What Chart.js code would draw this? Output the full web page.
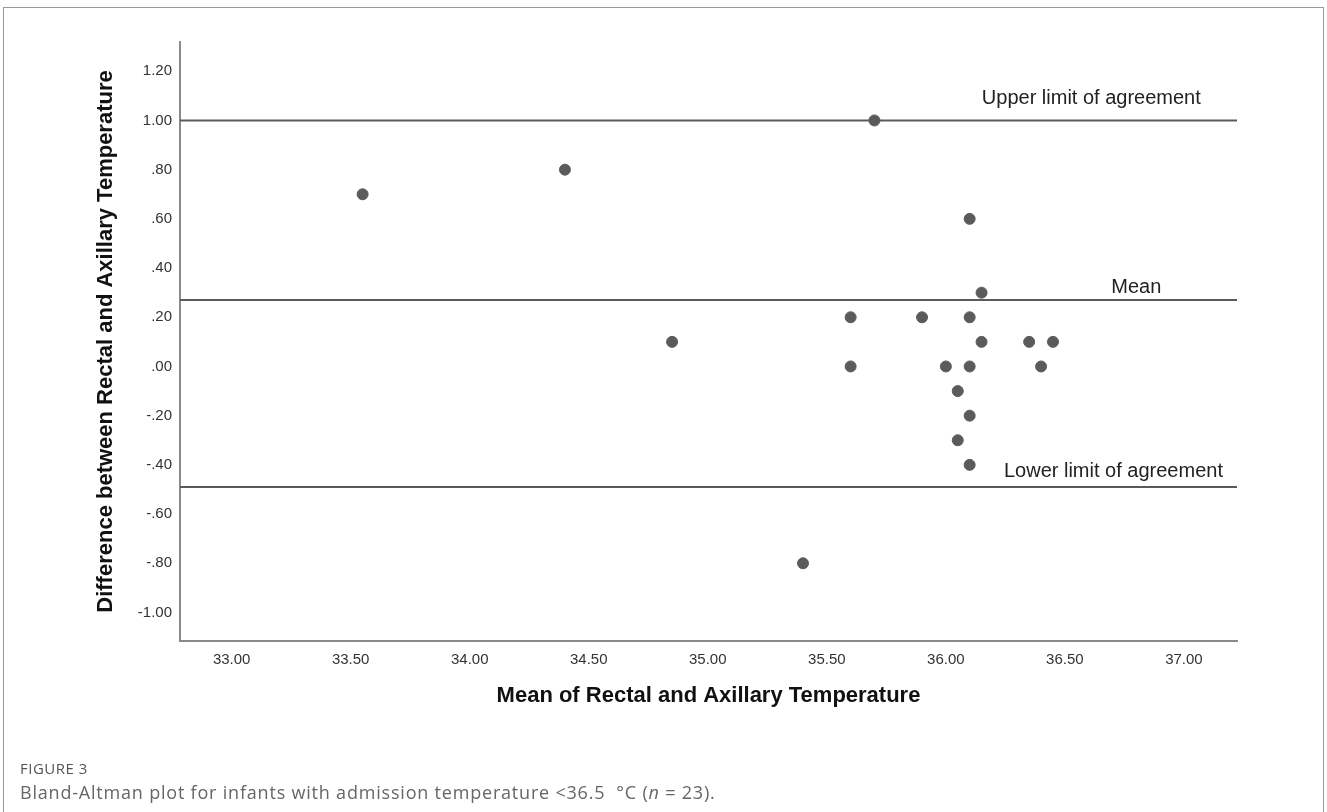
<!DOCTYPE html>
<html>
<head>
<meta charset="utf-8">
<title>Bland-Altman plot</title>
<script src="https://cdn.jsdelivr.net/npm/chart.js@4"></script>
<style>
	html, body { margin: 0; padding: 0; background: #fff; }
	body { width: 1327px; height: 812px; position: relative; overflow: hidden; }
	.frame { position: absolute; left: 3px; top: 7px; width: 1321px; height: 900px; border: 1px solid #9a9a9a; box-sizing: border-box; }
	#baChart { position: absolute; left: 0; top: 0; }
	.fig-label { position: absolute; left: 20px; top: 758px; font: 15px "Open Sans", sans-serif; letter-spacing: 0.5px; color: #555; }
	.fig-caption { position: absolute; left: 20px; top: 780px; font: 18px "Open Sans", sans-serif; letter-spacing: 0.8px; color: #666; }
</style>
</head>
<body>
<div class="frame"></div>
<canvas id="baChart" width="1327" height="812"></canvas>
<div class="fig-label">FIGURE 3</div>
<div class="fig-caption">Bland-Altman plot for infants with admission temperature &lt;36.5 &nbsp;°C (<i>n</i> = 23).</div>
<script>
// mean of rectal and axillary temperature (x) and their difference (y)
const meanTemp = [33.55, 34.40, 34.85, 35.40, 35.60, 35.60, 35.70, 35.90, 36.00, 36.05, 36.05,
	36.10, 36.10, 36.10, 36.10, 36.10, 36.15, 36.15, 36.35, 36.40, 36.45];
const tempDiff = [0.70, 0.80, 0.10, -0.80, 0.20, 0.00, 1.00, 0.20, 0.00, -0.10, -0.30,
	0.60, 0.20, 0.00, -0.20, -0.40, 0.30, 0.10, 0.10, 0.00, 0.10];

// reference lines
const limitNames = ["Upper limit of agreement", "Mean", "Lower limit of agreement"];
const limitValues = [1.00, 0.27, -0.49];

// ticks
const xTicks = [33.0, 33.5, 34.0, 34.5, 35.0, 35.5, 36.0, 36.5, 37.0];
const yTicks = [-1.0, -0.8, -0.6, -0.4, -0.2, 0.0, 0.2, 0.4, 0.6, 0.8, 1.0, 1.2];

const X_MIN = 32.783, X_MAX = 37.223;
const Y_MIN = -1.116, Y_MAX = 1.319;

// label placement for the reference lines (x in data units, dy in px above the line)
const limitLabelPos = [
	{ x: 36.611, dy: -16 },
	{ x: 36.800, dy: -7 },
	{ x: 36.704, dy: -10 }
];

function spssFormat(v) {
	let s = Math.abs(v).toFixed(2);
	if (s.startsWith("0")) s = s.slice(1);
	return (v < -1e-9 ? "-" : "") + s;
}

const lineLabels = {
	id: "lineLabels",
	afterDatasetsDraw(chart) {
		const { ctx, scales: { x, y } } = chart;
		ctx.save();
		ctx.font = '20px "Liberation Sans", Arial, sans-serif';
		ctx.fillStyle = "#222";
		ctx.textAlign = "center";
		ctx.textBaseline = "alphabetic";
		limitNames.forEach((name, i) => {
			const px = x.getPixelForValue(limitLabelPos[i].x);
			const py = y.getPixelForValue(limitValues[i]) + limitLabelPos[i].dy;
			ctx.fillText(name, px, py);
		});
		ctx.restore();
	}
};

const points = meanTemp.map((m, i) => ({ x: m, y: tempDiff[i] }));

const limitSets = limitValues.map((v, i) => ({
	type: "line",
	label: limitNames[i],
	data: [{ x: X_MIN, y: v }, { x: X_MAX, y: v }],
	borderColor: "#5a5a5a",
	borderWidth: 2,
	pointRadius: 0,
	fill: false
}));

const tickFont = { family: '"Liberation Sans", Arial, sans-serif', size: 15 };
const titleFont = { family: '"Liberation Sans", Arial, sans-serif', size: 22, weight: "bold" };

new Chart(document.getElementById("baChart"), {
	type: "scatter",
	data: {
		datasets: [
			...limitSets,
			{
				label: "Difference",
				data: points,
				backgroundColor: "#5b5b5b",
				borderColor: "#5b5b5b",
				pointRadius: 5.5,
				pointHoverRadius: 5.5
			}
		]
	},
	options: {
		responsive: false,
		animation: false,
		layout: { padding: { top: 42, right: 90, left: 0, bottom: 0 } },
		plugins: {
			legend: { display: false },
			tooltip: { enabled: false }
		},
		scales: {
			x: {
				type: "linear",
				min: X_MIN,
				max: X_MAX,
				afterBuildTicks(scale) { scale.ticks = xTicks.map(v => ({ value: v })); },
				afterFit(scale) { scale.height = 171; },
				grid: { display: false, drawTicks: false },
				border: { display: true, color: "#8a8a8a", width: 2 },
				ticks: {
					padding: 10,
					color: "#333",
					font: tickFont,
					maxRotation: 0,
					callback: v => Number(v).toFixed(2)
				},
				title: {
					display: true,
					text: "Mean of Rectal and Axillary Temperature",
					color: "#111",
					font: titleFont,
					padding: { top: 0, bottom: 103 }
				}
			},
			y: {
				type: "linear",
				min: Y_MIN,
				max: Y_MAX,
				afterBuildTicks(scale) { scale.ticks = yTicks.map(v => ({ value: v })); },
				afterFit(scale) { scale.width = 180; },
				grid: { display: false, drawTicks: false },
				border: { display: true, color: "#8a8a8a", width: 2 },
				ticks: {
					padding: 8,
					color: "#333",
					font: tickFont,
					callback: v => spssFormat(v)
				},
				title: {
					display: true,
					text: "Difference between Rectal and Axillary Temperature",
					color: "#111",
					font: titleFont,
					padding: { top: 93, bottom: 0 }
				}
			}
		}
	},
	plugins: [lineLabels]
});
</script>
</body>
</html>
